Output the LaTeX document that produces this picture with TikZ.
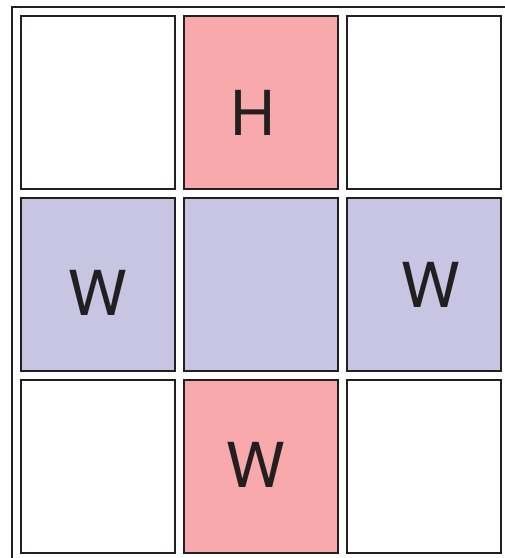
\documentclass[tikz,border=0pt]{standalone}
\usepackage{fontspec}
\setmainfont{TeX Gyre Heros}
\definecolor{pinkc}{HTML}{F7A9AC}
\definecolor{lavc}{HTML}{C8C5E2}
\definecolor{edgec}{HTML}{231F20}
\begin{document}
\begin{tikzpicture}[x=1pt,y=-1pt,
  cell/.style={draw=edgec,line width=1.1pt},
  letter/.style={anchor=base,inner sep=0pt,text=edgec,font=\fontsize{62}{62}\selectfont}]
\useasboundingbox (0,0) rectangle (505,558);
\fill[white] (0,0) rectangle (505,558);
\coordinate (fa) at (12,600);
\coordinate (fb) at (12,7);
\coordinate (fc) at (560,7);
\draw[edgec,line width=1.1pt] (fa) -- (fb) -- (fc);
% row 1
\draw[cell,fill=white] (21,16) rectangle (175,189);
\draw[cell,fill=pinkc] (184,16) rectangle (338,189);
\draw[cell,fill=white] (347,16) rectangle (501,189);
% row 2
\draw[cell,fill=lavc] (21,198) rectangle (175,371);
\draw[cell,fill=lavc] (184,198) rectangle (338,371);
\draw[cell,fill=lavc] (347,198) rectangle (501,371);
% row 3
\draw[cell,fill=white] (21,380) rectangle (175,553);
\draw[cell,fill=pinkc] (184,380) rectangle (338,553);
\draw[cell,fill=white] (347,380) rectangle (501,553);
% letters
\node[letter] (h) at (253,135) {H};
\node[letter] (w1) at (97.5,315) {W};
\node[letter] (w2) at (430.5,307) {W};
\node[letter] (w3) at (255.5,487) {W};
\end{tikzpicture}
\end{document}
